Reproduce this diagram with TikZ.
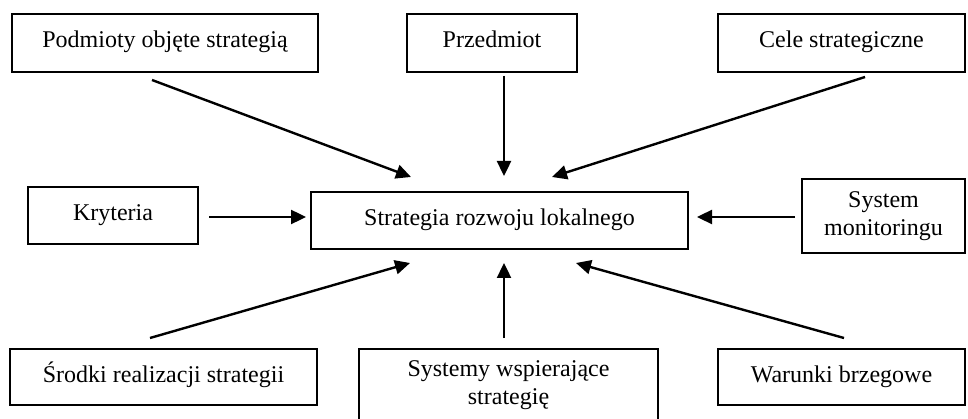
\documentclass[tikz,border=0pt]{standalone}
\usepackage{fontspec}
\setmainfont{Liberation Serif}
\usetikzlibrary{arrows.meta}
\begin{document}
\begin{tikzpicture}[x=1pt,y=-1pt,
  box/.style={draw,line width=1.8pt,inner sep=0pt,align=center,font=\fontsize{24}{27.5}\selectfont},
  one/.style={text height=17pt,text depth=7pt},
  arr/.style={line width=2.4pt,-{Triangle[length=15pt,width=14pt]}}]
\useasboundingbox (0,0) rectangle (968,419);
\clip (0,0) rectangle (968,419);
% boxes
\node[box,one,minimum width=306pt,minimum height=58pt] (podm) at (165,43) {Podmioty objęte strategią};
\node[box,one,minimum width=170pt,minimum height=58pt] (przed) at (492,43) {Przedmiot};
\node[box,one,minimum width=247pt,minimum height=58pt] (cele) at (841.5,43) {Cele strategiczne};
\node[box,one,minimum width=170pt,minimum height=57pt] (kryt) at (113,215.5) {Kryteria};
\node[box,one,minimum width=377pt,minimum height=57pt] (strat) at (499.5,220.5) {Strategia rozwoju lokalnego};
\node[box,minimum width=163pt,minimum height=74pt] (sysm) at (883.5,216) {System\\monitoringu};
\node[box,one,minimum width=307pt,minimum height=56pt] (srodki) at (163.5,377) {Środki realizacji strategii};
\node[box,minimum width=299pt,minimum height=72pt] (systemy) at (508.5,385) {Systemy wspierające\\strategię};
\node[box,one,minimum width=247pt,minimum height=56pt] (warunki) at (841.5,377) {Warunki brzegowe};
% arrow end points
\coordinate (a1s) at (152,80);  \coordinate (a1e) at (411,177);
\coordinate (a2s) at (504,76);  \coordinate (a2e) at (504,176);
\coordinate (a3s) at (865,77);  \coordinate (a3e) at (552,177);
\coordinate (a4s) at (209,217); \coordinate (a4e) at (306,217);
\coordinate (a5s) at (795,217); \coordinate (a5e) at (697,217);
\coordinate (a6s) at (150,338); \coordinate (a6e) at (410,263);
\coordinate (a7s) at (504,338); \coordinate (a7e) at (504,263);
\coordinate (a8s) at (844,338); \coordinate (a8e) at (576,263);
% arrows
\draw[arr] (a1s) -- (a1e);
\draw[arr] (a2s) -- (a2e);
\draw[arr] (a3s) -- (a3e);
\draw[arr] (a4s) -- (a4e);
\draw[arr] (a5s) -- (a5e);
\draw[arr] (a6s) -- (a6e);
\draw[arr] (a7s) -- (a7e);
\draw[arr] (a8s) -- (a8e);
\end{tikzpicture}
\end{document}
